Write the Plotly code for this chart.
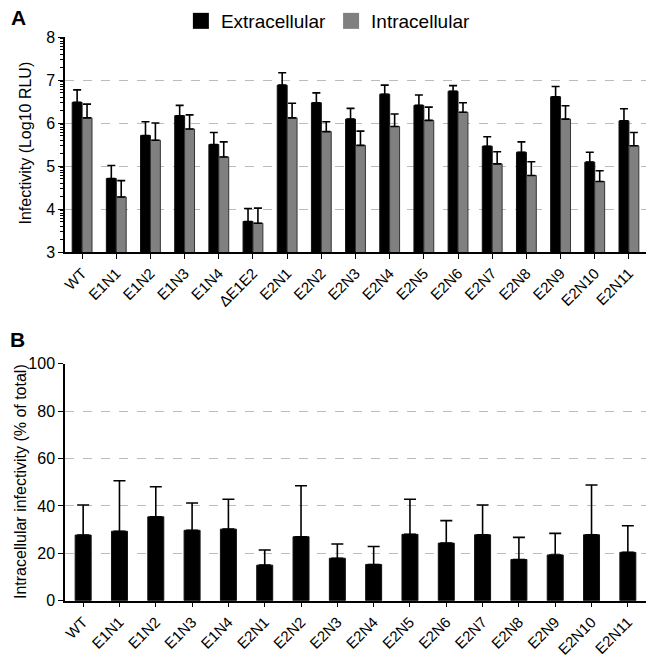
import numpy as np
import plotly.graph_objects as go

# ---------------- data ----------------
cats_a = ["WT", "E1N1", "E1N2", "E1N3", "E1N4", "ΔE1E2", "E2N1", "E2N2", "E2N3",
          "E2N4", "E2N5", "E2N6", "E2N7", "E2N8", "E2N9", "E2N10", "E2N11"]
extra_mean = [6.48, 4.71, 5.71, 6.17, 5.50, 3.71, 6.88, 6.47, 6.09, 6.67, 6.41, 6.74, 5.46, 5.32, 6.61, 5.09, 6.05]
extra_top = [6.77, 5.01, 6.03, 6.41, 5.78, 4.01, 7.17, 6.70, 6.34, 6.88, 6.65, 6.87, 5.68, 5.56, 6.85, 5.32, 6.33]
intra_mean = [6.12, 4.28, 5.60, 5.86, 5.21, 3.67, 6.12, 5.80, 5.48, 5.92, 6.06, 6.25, 5.05, 4.78, 6.09, 4.64, 5.47]
intra_top = [6.44, 4.66, 6.00, 6.19, 5.56, 4.02, 6.46, 6.03, 5.81, 6.21, 6.37, 6.47, 5.33, 5.10, 6.40, 4.89, 5.78]

cats_b = ["WT", "E1N1", "E1N2", "E1N3", "E1N4", "E2N1", "E2N2", "E2N3", "E2N4",
          "E2N5", "E2N6", "E2N7", "E2N8", "E2N9", "E2N10", "E2N11"]
pct_mean = [27.7, 29.3, 35.4, 29.7, 30.2, 15.0, 27.0, 17.9, 15.3, 28.0, 24.3, 27.8, 17.4, 19.3, 27.8, 20.4]
pct_top = [40.4, 50.6, 48.1, 41.2, 42.8, 21.4, 48.5, 23.9, 22.9, 42.8, 33.8, 40.4, 26.7, 28.4, 48.8, 31.6]

yticks_a = [3, 4, 5, 6, 7, 8]
yticks_b = [0, 20, 40, 60, 80, 100]

FONT = "Arial, 'Liberation Sans', sans-serif"
BLACK = "#000000"
GRAY = "#808080"

def up_err(mean, top):
    return dict(type="data", symmetric=False,
                array=[t - m for m, t in zip(mean, top)],
                arrayminus=[0] * len(mean),
                color="black", thickness=1.6, width=4)

fig = go.Figure()

fig.add_trace(go.Bar(x=cats_a, y=extra_mean, name="Extracellular",
                     marker=dict(color=BLACK, line=dict(color="#111111", width=1)),
                     error_y=up_err(extra_mean, extra_top), showlegend=False,
                     xaxis="x", yaxis="y"))
fig.add_trace(go.Bar(x=cats_a, y=intra_mean, name="Intracellular",
                     marker=dict(color=GRAY, line=dict(color="#333333", width=1)),
                     error_y=up_err(intra_mean, intra_top), showlegend=False,
                     xaxis="x", yaxis="y"))

# legend proxies
fig.add_trace(go.Scatter(x=[None], y=[None], mode="markers", name="Extracellular",
                         marker=dict(symbol="square", size=18, color=BLACK),
                         xaxis="x", yaxis="y"))
fig.add_trace(go.Scatter(x=[None], y=[None], mode="markers", name="Intracellular",
                         marker=dict(symbol="square", size=18, color=GRAY),
                         xaxis="x", yaxis="y"))

fig.add_trace(go.Bar(x=cats_b, y=pct_mean, name="Intracellular %", width=0.44,
                     marker=dict(color=BLACK, line=dict(color="#111111", width=1)),
                     error_y=dict(type="data", symmetric=False,
                                  array=[t - m for m, t in zip(pct_mean, pct_top)],
                                  arrayminus=[0] * len(pct_mean),
                                  color="black", thickness=1.6, width=6),
                     showlegend=False, xaxis="x2", yaxis="y2"))

minor_a = [float(d + np.log10(k)) for d in range(3, 8) for k in range(2, 10)]

x0, x1 = 65 / 646, 1.0
H = 658.0
axis_common = dict(showline=True, linecolor="black", linewidth=1.5, automargin=False,
                   ticks="outside", tickcolor="black", ticklen=5, tickwidth=1.2)
xfont = dict(family=FONT, size=15, color="black")
yfont = dict(family=FONT, size=16, color="black")

fig.update_layout(
    width=646, height=658,
    margin=dict(l=0, r=0, t=0, b=0, autoexpand=False),
    paper_bgcolor="white", plot_bgcolor="white",
    barmode="group", bargap=0.42, bargroupgap=0.0,
    font=dict(family=FONT, color="black"),
    xaxis=dict(domain=[x0, x1], anchor="y", tickangle=-45, showgrid=False,
               tickfont=xfont, **axis_common),
    yaxis=dict(domain=[1 - 252 / H, 1 - 37 / H], anchor="x", range=[3, 8],
               tickvals=yticks_a, showgrid=True, gridcolor="#bbbbbb", griddash="dash",
               gridwidth=1, zeroline=False, tickfont=yfont,
               minor=dict(tickmode="array", tickvals=minor_a, ticks="outside",
                          ticklen=3, tickcolor="black", tickwidth=1, showgrid=False),
               **axis_common),
    xaxis2=dict(domain=[x0, x1], anchor="y2", tickangle=-45, showgrid=False,
                tickfont=xfont, **axis_common),
    yaxis2=dict(domain=[1 - 600.7 / H, 1 - 363.7 / H], anchor="x2", range=[0, 100],
                tickvals=yticks_b, showgrid=True, gridcolor="#bbbbbb", griddash="dash",
                gridwidth=1, zeroline=False, tickfont=yfont, **axis_common),
    legend=dict(orientation="h", x=0.28, y=1 - 2 / H, xanchor="left", yanchor="top",
                font=dict(family=FONT, size=19, color="black"),
                bgcolor="rgba(0,0,0,0)", itemsizing="trace"),
    annotations=[
        dict(text="<b>A</b>", x=18 / 646, y=1 - 17 / H, xref="paper", yref="paper",
             xanchor="center", yanchor="middle",
             showarrow=False, font=dict(family=FONT, size=21, color="black")),
        dict(text="<b>B</b>", x=17 / 646, y=1 - 339 / H, xref="paper", yref="paper",
             xanchor="center", yanchor="middle",
             showarrow=False, font=dict(family=FONT, size=21, color="black")),
        dict(text="Infectivity (Log10 RLU)", x=25 / 646, y=1 - 143.5 / H,
             xref="paper", yref="paper", textangle=-90, showarrow=False,
             xanchor="center", yanchor="middle",
             font=dict(family=FONT, size=16, color="black")),
        dict(text="Intracellular infectivity (% of total)", x=20 / 646, y=1 - 482 / H,
             xref="paper", yref="paper", textangle=-90, showarrow=False,
             xanchor="center", yanchor="middle",
             font=dict(family=FONT, size=16, color="black")),
    ],
)

fig.write_html("out.html", config={"displayModeBar": False},
               post_script="document.body.style.margin='0';"
                           "document.body.style.overflow='hidden';")
